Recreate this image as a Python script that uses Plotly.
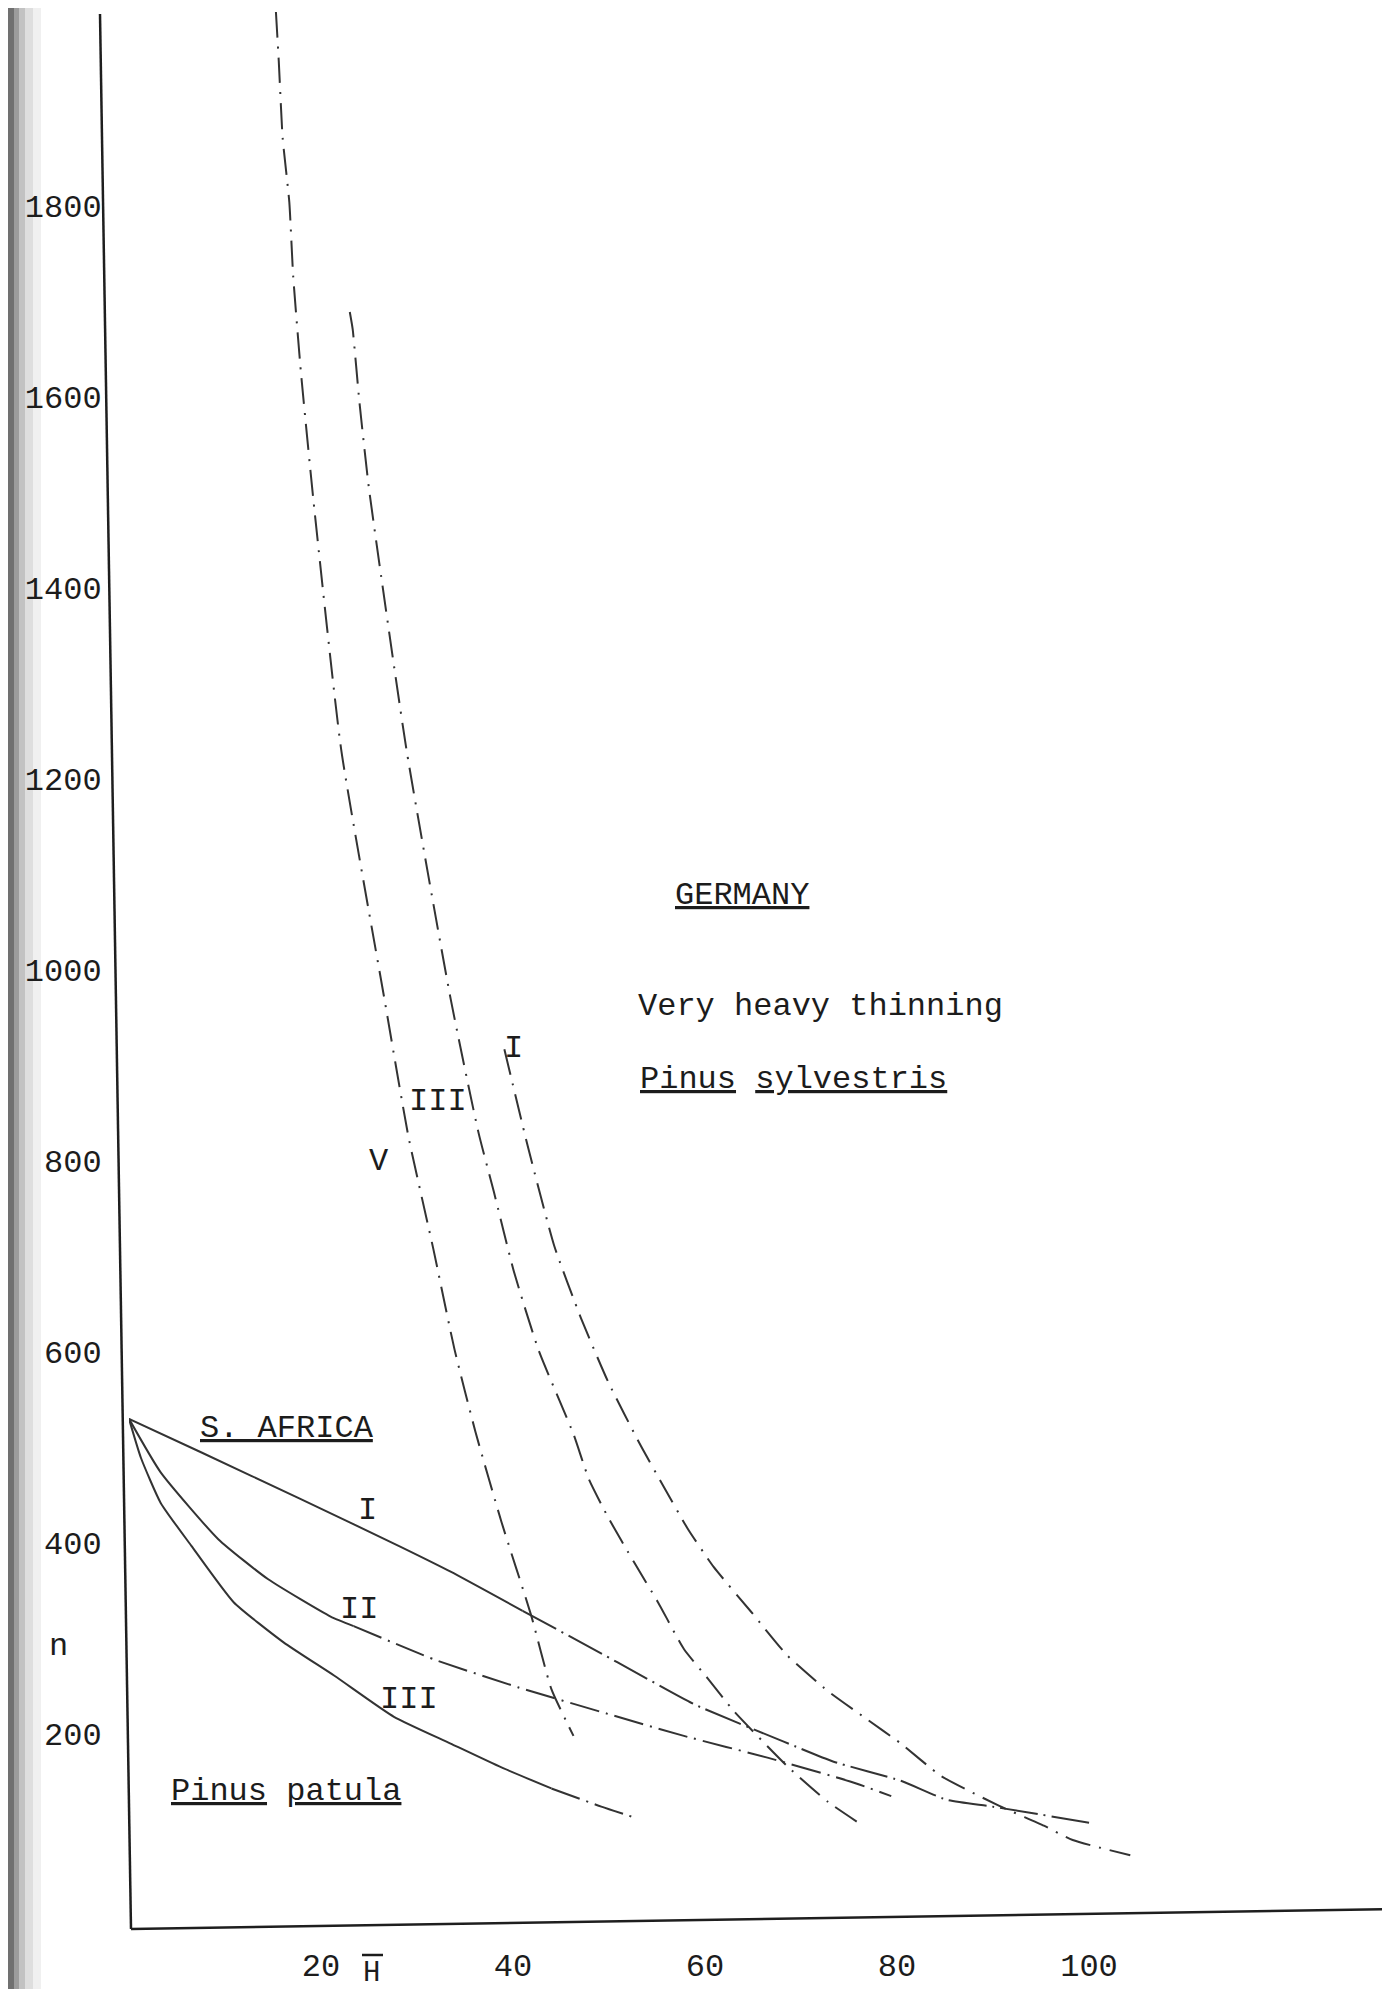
import plotly.graph_objects as go

# ---------------- data ----------------
# x = mean height H (ft), y = n (stems per acre)
x_ticks = [20, 40, 60, 80, 100]
y_ticks = [200, 400, 600, 800, 1000, 1200, 1400, 1600, 1800]

# South Africa, Pinus patula, site classes I, II, III
sa_h_I = [0, 7.5, 17.9, 28.3, 33.5, 41.0, 50.9, 58.9, 68.2, 73.4, 80.4, 85.2, 89.9, 100.1]
sa_n_I = [530, 495, 446, 396, 370, 329, 275, 231, 192, 171, 151, 131, 124, 107]
sa_solid_until_I = 41.0

sa_h_II = [0, 3.3, 9.3, 14.5, 21.0, 23.4, 31.8, 40.5, 49.9, 57.8, 66.6, 75.2, 79.4]
sa_n_II = [530, 474, 404, 362, 323, 313, 278, 249, 221, 198, 175, 150, 135]
sa_solid_until_II = 23.4

sa_h_III = [0, 1.25, 3.3, 6.5, 10.9, 16.1, 21.4, 27.6, 33.5, 38.8, 44.0, 49.2, 52.8]
sa_n_III = [530, 489, 442, 397, 338, 296, 261, 218, 190, 165, 143, 124, 112]
sa_solid_until_III = 44.0

# Germany, Pinus sylvestris, very heavy thinning, site classes I, III, V
de_h_V = [15.3, 15.6, 16.0, 16.7, 17.1, 17.9, 19.2, 22.1, 26.6, 29.1, 31.7, 33.9, 36.1, 38.8, 41.9, 44.0, 46.3]
de_n_V = [2004, 1952, 1872, 1804, 1727, 1627, 1493, 1231, 970, 826, 708, 603, 516, 422, 324, 247, 198]

de_h_III = [23.0, 23.3, 24.0, 25.0, 28.9, 33.5, 36.4, 38.0, 40.1, 42.7, 46.3, 47.9, 49.9, 52.6, 55.1,
            57.8, 60.3, 63.0, 68.6, 72.8, 76.6]
de_n_III = [1689, 1671, 1595, 1504, 1231, 970, 830, 768, 684, 601, 514, 467, 427, 380, 338,
            289, 258, 224, 166, 129, 103]

de_h_I = [39.1, 41.6, 44.3, 47.1, 49.9, 53.3, 55.7, 58.2, 60.9, 64.8, 68.6, 72.8, 76.8, 80.4,
          84.6, 90.6, 95.3, 98.3, 104.3]
de_n_I = [917, 813, 711, 635, 569, 502, 459, 415, 375, 328, 282, 245, 216, 190,
          156, 125, 104, 89, 73]

# ---------------- styling ----------------
FONT = "Liberation Mono"
INK = "#1c1c1c"
LINE = "#333333"
W, H = 1390, 1989
ML, MR, MT, MB = 121, 0, 4, 72
PW, PH = W - ML - MR, H - MT - MB


def px_x(px):
    return (px - ML) / PW


def px_y(py):
    return (H - MB - py) / PH


fig = go.Figure()


def add_sa(h, n, split, dash):
    solid = [(a, b) for a, b in zip(h, n) if a <= split]
    rest = [(a, b) for a, b in zip(h, n) if a >= split]
    fig.add_trace(go.Scatter(x=[p[0] for p in solid], y=[p[1] for p in solid], mode="lines",
                             line=dict(color=LINE, width=2, shape="spline", smoothing=0.5),
                             hoverinfo="skip", showlegend=False))
    fig.add_trace(go.Scatter(x=[p[0] for p in rest], y=[p[1] for p in rest], mode="lines",
                             line=dict(color=LINE, width=2, dash=dash, shape="spline", smoothing=0.5),
                             hoverinfo="skip", showlegend=False))


add_sa(sa_h_I, sa_n_I, sa_solid_until_I, "38px,6px,2px,6px")
add_sa(sa_h_II, sa_n_II, sa_solid_until_II, "30px,7px,2px,7px")
add_sa(sa_h_III, sa_n_III, sa_solid_until_III, "30px,7px,2px,7px")

for h, n in [(de_h_V, de_n_V), (de_h_III, de_n_III), (de_h_I, de_n_I)]:
    fig.add_trace(go.Scatter(x=h, y=n, mode="lines",
                             line=dict(color=LINE, width=2, dash="26px,9px,2px,9px",
                                       shape="spline", smoothing=0.5),
                             hoverinfo="skip", showlegend=False))

tf = dict(family=FONT, size=32, color=INK)


def label(text, x, y, **kw):
    fig.add_annotation(text=text, x=x, y=y, showarrow=False, font=tf,
                       xanchor="center", yanchor="middle", **kw)


# curve labels
label("I", 24.8, 434)
label("II", 24.0, 330)
label("III", 29.2, 236)
label("I", 40.0, 918)
label("III", 32.2, 862)
label("V", 26.0, 800)

# block labels
label("<u>S. AFRICA</u>", 16.5, 520)
label("<u>Pinus</u> <u>patula</u>", 16.4, 140)
label("<u>GERMANY</u>", 63.9, 1078)
label("Very heavy thinning", 72.0, 962)
label("<u>Pinus</u> <u>sylvestris</u>", 69.2, 885)

# axis names
fig.add_annotation(text="n", xref="paper", x=px_x(50), y=292, yref="y",
                   showarrow=False, font=tf, xanchor="center", yanchor="middle")
fig.add_annotation(text="H", x=25.3, xref="x", yref="paper", y=px_y(1966),
                   showarrow=False, font=dict(family=FONT, size=29, color=INK),
                   xanchor="center", yanchor="middle")
fig.add_shape(type="line", xref="paper", yref="paper",
              x0=px_x(354), x1=px_x(375), y0=px_y(1947), y1=px_y(1947),
              line=dict(color=INK, width=2.5))

# hand-drawn (slightly tilted) axis lines of the original sheet
fig.add_shape(type="line", xref="paper", yref="paper",
              x0=px_x(123), y0=px_y(1921), x1=px_x(92), y1=px_y(6),
              line=dict(color="#1e1e1e", width=2.5))
fig.add_shape(type="line", xref="paper", yref="paper",
              x0=px_x(123), y0=px_y(1921), x1=px_x(1390), y1=px_y(1901),
              line=dict(color="#1e1e1e", width=2.5))

# scanner shadow on the left edge
shade = [("#707070", 0, 6), ("#9c9c9c", 6, 11), ("#c2c2c2", 11, 17), ("#dedede", 17, 25), ("#f0f0f0", 25, 33)]
for col, a, b in shade:
    fig.add_shape(type="rect", xref="paper", yref="paper",
                  x0=px_x(a), x1=px_x(b), y0=px_y(H), y1=px_y(0),
                  fillcolor=col, line=dict(width=0), layer="below")

fig.update_xaxes(range=[0, PW / 9.6], tickvals=x_ticks, ticktext=[str(v) for v in x_ticks],
                 showgrid=False, zeroline=False, showline=False,
                 ticks="outside", ticklen=12, tickcolor="rgba(0,0,0,0)", tickfont=tf)
fig.update_yaxes(range=[0, PH / 0.955], tickvals=y_ticks, ticktext=[str(v) for v in y_ticks],
                 showgrid=False, zeroline=False, showline=False,
                 ticks="outside", ticklen=20, tickcolor="rgba(0,0,0,0)", tickfont=tf)

fig.update_layout(width=W, height=H, margin=dict(l=ML, r=MR, t=MT, b=MB, autoexpand=False),
                  paper_bgcolor="white", plot_bgcolor="white", showlegend=False)

fig.write_html("out.html")
